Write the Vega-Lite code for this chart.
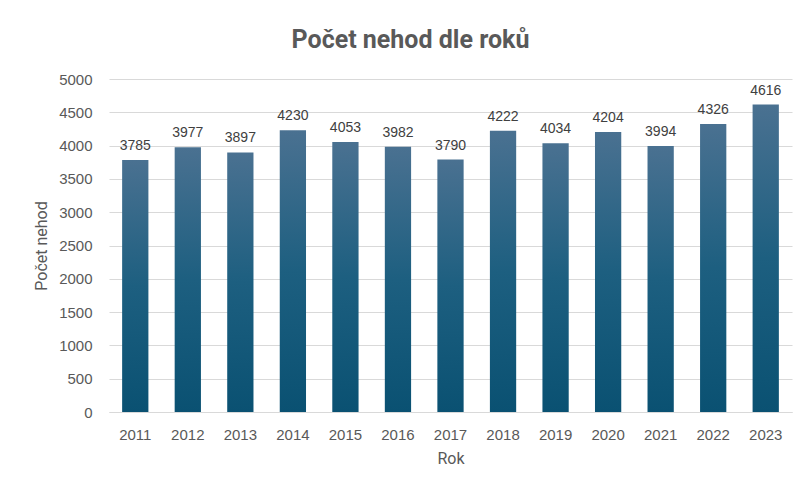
{
  "$schema": "https://vega.github.io/schema/vega-lite/v6.json",
  "width": 683,
  "height": 333,
  "autosize": {"type": "none"},
  "padding": {"left": 109, "top": 79, "right": 6, "bottom": 74},
  "background": "white",
  "title": {
    "text": "Počet nehod dle roků",
    "anchor": "middle",
    "dx": -40,
    "offset": 19,
    "font": "Roboto",
    "fontSize": 25,
    "fontWeight": "bold",
    "color": "#595959"
  },
  "data": {
    "values": [
      {"rok": "2011", "pocet": 3785},
      {"rok": "2012", "pocet": 3977},
      {"rok": "2013", "pocet": 3897},
      {"rok": "2014", "pocet": 4230},
      {"rok": "2015", "pocet": 4053},
      {"rok": "2016", "pocet": 3982},
      {"rok": "2017", "pocet": 3790},
      {"rok": "2018", "pocet": 4222},
      {"rok": "2019", "pocet": 4034},
      {"rok": "2020", "pocet": 4204},
      {"rok": "2021", "pocet": 3994},
      {"rok": "2022", "pocet": 4326},
      {"rok": "2023", "pocet": 4616}
    ]
  },
  "encoding": {
    "x": {
      "field": "rok",
      "type": "ordinal",
      "title": "Rok",
      "scale": {"paddingInner": 0.5, "paddingOuter": 0.25},
      "axis": {
        "labelAngle": 0,
        "ticks": false,
        "domain": true,
        "domainColor": "#d9d9d9",
        "labelPadding": 15,
        "labelFontSize": 15,
        "labelColor": "#595959",
        "labelFont": "Liberation Sans",
        "titleFont": "Roboto",
        "titleFontSize": 16,
        "titleFontWeight": "normal",
        "titleColor": "#595959",
        "titlePadding": 8
      }
    },
    "y": {
      "field": "pocet",
      "type": "quantitative",
      "title": "Počet nehod",
      "scale": {"domain": [0, 5000]},
      "axis": {
        "values": [0, 500, 1000, 1500, 2000, 2500, 3000, 3500, 4000, 4500, 5000],
        "format": "d",
        "ticks": false,
        "domain": false,
        "gridColor": "#d9d9d9",
        "labelPadding": 17,
        "labelFontSize": 15,
        "labelColor": "#595959",
        "labelFont": "Liberation Sans",
        "titleFont": "Roboto",
        "titleFontSize": 16,
        "titleFontWeight": "normal",
        "titleColor": "#595959",
        "titlePadding": 9
      }
    }
  },
  "layer": [
    {
      "mark": {
        "type": "bar",
        "color": {
          "gradient": "linear",
          "x1": 0, "y1": 0, "x2": 0, "y2": 1,
          "stops": [
            {"offset": 0, "color": "#4a7191"},
            {"offset": 0.5, "color": "#1d5f80"},
            {"offset": 1, "color": "#0a5172"}
          ]
        }
      }
    },
    {
      "mark": {
        "type": "text",
        "baseline": "bottom",
        "dy": -7,
        "font": "Liberation Sans",
        "fontSize": 14,
        "color": "#404040"
      },
      "encoding": {"text": {"field": "pocet", "type": "quantitative", "format": "d"}}
    }
  ],
  "config": {"view": {"stroke": null}}
}
